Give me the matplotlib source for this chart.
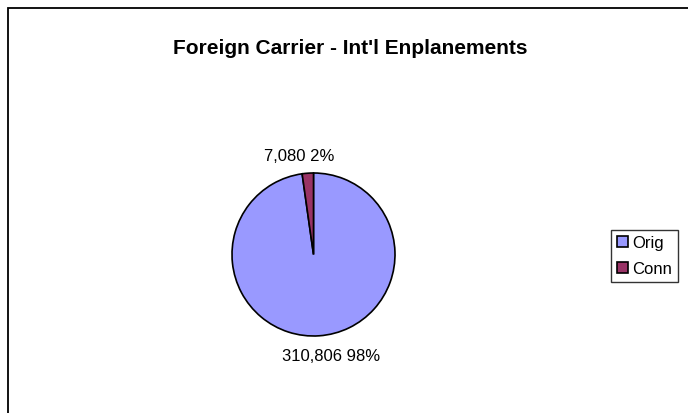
import matplotlib.pyplot as plt
from matplotlib.patches import Rectangle

plt.rcParams['font.family'] = ['Liberation Sans', 'DejaVu Sans']

categories = ['Orig', 'Conn']
values = [310806, 7080]
colors = ['#9999FF', '#993366']

W, H = 688, 414
fig = plt.figure(figsize=(W / 100, H / 100), dpi=100)

# outer chart border (Excel chart area)
fig.patches.append(Rectangle((8 / W, -0.05), 1.0, 1.05 - 9 / H, transform=fig.transFigure,
                             fill=False, edgecolor='black', linewidth=1.3))

fig.text(350.5 / W, 1 - 48 / H, "Foreign Carrier - Int'l Enplanements",
         ha='center', va='center', fontsize=15, fontweight='bold')

cx, cy, r = 313.5, 255.5, 81.5
ax = fig.add_axes([(cx - r) / W, 1 - (cy + r) / H, 2 * r / W, 2 * r / H])

total = sum(values)
labels = [f'{v:,} {round(100 * v / total):.0f}%' for v in values]
wedges, texts = ax.pie(values, colors=colors, startangle=90, counterclock=False,
                       labels=labels, labeldistance=1.2,
                       wedgeprops=dict(edgecolor='black', linewidth=1.2),
                       textprops=dict(fontsize=12))
texts[0].set_position((0.21, -1.24))
texts[1].set_position((-0.18, 1.21))
for t in texts:
    t.set_ha('center')
    t.set_va('center')
ax.set_xlim(-1, 1)
ax.set_ylim(-1, 1)
ax.set_aspect('equal')

leg = fig.legend(wedges, categories, loc='lower left',
                 bbox_to_anchor=(611 / W, 1 - 283 / H), fontsize=12,
                 frameon=True, fancybox=False, handlelength=0.66, handleheight=0.66,
                 handletextpad=0.25, borderpad=0.35, labelspacing=0.65, borderaxespad=0)
leg.get_frame().set_edgecolor('black')
leg.get_frame().set_linewidth(1.0)

fig.savefig('out.png', dpi=100)
